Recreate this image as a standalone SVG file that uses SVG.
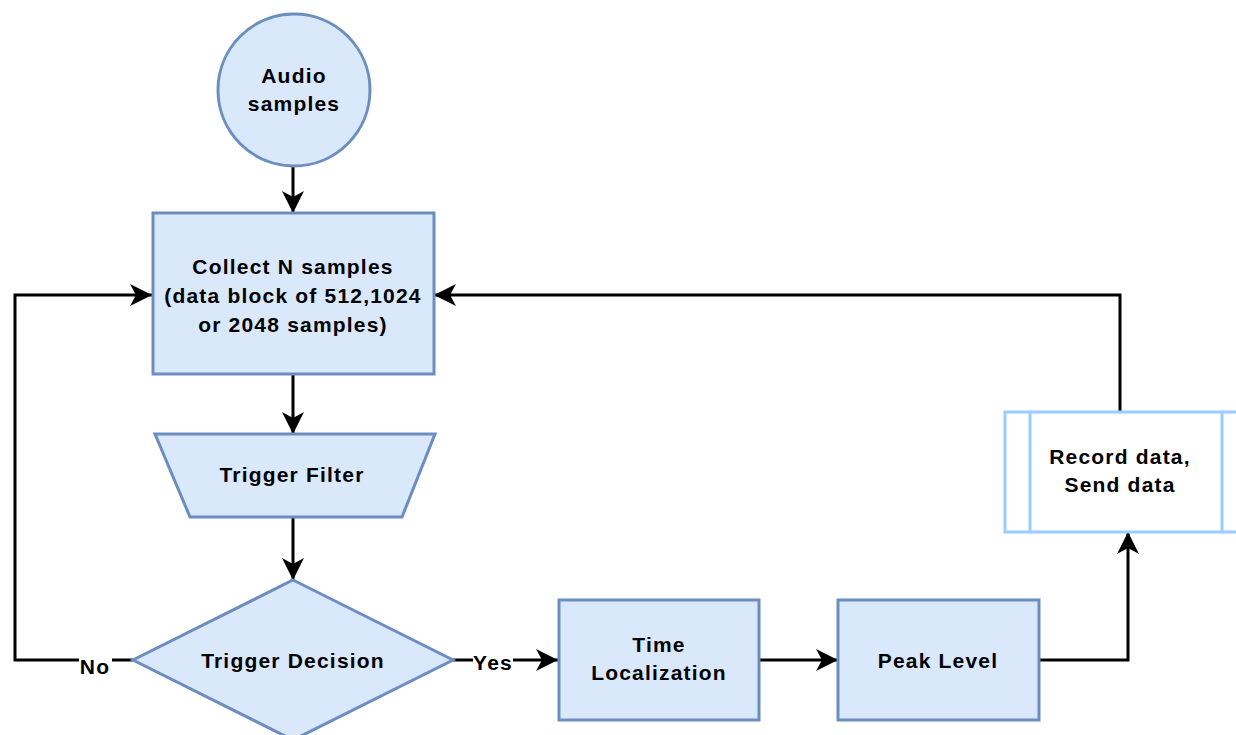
<svg xmlns="http://www.w3.org/2000/svg" width="1236" height="735" viewBox="0 0 1236 735">
  <style>
    .shape { fill: #dae8fc; stroke: #6c8ebf; stroke-width: 3; }
    .sub { fill: #ffffff; stroke: #99ccff; stroke-width: 3; }
    .lbl { font-family: "Liberation Sans", Arial, sans-serif; font-weight: bold; font-size: 21px; letter-spacing: 1.2px; fill: #000; text-anchor: middle; }
    .edge { fill: none; stroke: #000; stroke-width: 3; }
  </style>
  <defs>
    <marker id="arrow" markerUnits="userSpaceOnUse" markerWidth="24" markerHeight="24" refX="22" refY="11" orient="auto" viewBox="0 0 24 22">
      <path d="M0,0 L22,11 L0,22 L6,11 Z" fill="#000"/>
    </marker>
  </defs>
  <rect width="1236" height="735" fill="#ffffff"/>

  <g id="connectors">
    <path class="edge" d="M293,167 L293,213" marker-end="url(#arrow)"/>
    <path class="edge" d="M293,374 L293,434" marker-end="url(#arrow)"/>
    <path class="edge" d="M293,517 L293,580" marker-end="url(#arrow)"/>
    <path class="edge" d="M133,660 L15,660 L15,295 L152,295" marker-end="url(#arrow)"/>
    <path class="edge" d="M453,660 L558,660" marker-end="url(#arrow)"/>
    <path class="edge" d="M759,660 L838,660" marker-end="url(#arrow)"/>
    <path class="edge" d="M1039,660 L1128,660 L1128,532" marker-end="url(#arrow)"/>
    <path class="edge" d="M1120,412 L1120,295 L434,295" marker-end="url(#arrow)"/>
    <rect x="79" y="652" width="33" height="22" fill="#ffffff"/>
    <text class="lbl" x="95" y="674">No</text>
    <rect x="473" y="652" width="40" height="22" fill="#ffffff"/>
    <text class="lbl" x="493" y="670">Yes</text>
  </g>

  <g id="audio-samples">
    <circle class="shape" cx="294" cy="90" r="76"/>
    <text class="lbl" x="294" y="83">Audio</text>
    <text class="lbl" x="294" y="111">samples</text>
  </g>

  <g id="collect-samples">
    <rect class="shape" x="153" y="213" width="281" height="161"/>
    <text class="lbl" x="293" y="274">Collect N samples</text>
    <text class="lbl" x="293" y="303">(data block of 512,1024</text>
    <text class="lbl" x="293" y="332">or 2048 samples)</text>
  </g>

  <g id="trigger-filter">
    <polygon class="shape" points="155,434 435,434 402,517 190,517"/>
    <text class="lbl" x="292" y="482">Trigger Filter</text>
  </g>

  <g id="trigger-decision">
    <polygon class="shape" points="293,580 453,660 293,740 133,660"/>
    <text class="lbl" x="293" y="668">Trigger Decision</text>
  </g>

  <g id="time-localization">
    <rect class="shape" x="559" y="600" width="200" height="120"/>
    <text class="lbl" x="659" y="652">Time</text>
    <text class="lbl" x="659" y="680">Localization</text>
  </g>

  <g id="peak-level">
    <rect class="shape" x="838" y="600" width="201" height="120"/>
    <text class="lbl" x="938" y="668">Peak Level</text>
  </g>

  <g id="record-send">
    <rect class="sub" x="1005" y="412" width="242" height="120"/>
    <line class="sub" x1="1030" y1="412" x2="1030" y2="532"/>
    <line class="sub" x1="1222" y1="412" x2="1222" y2="532"/>
    <text class="lbl" x="1120" y="464">Record data,</text>
    <text class="lbl" x="1120" y="492">Send data</text>
  </g>
</svg>
